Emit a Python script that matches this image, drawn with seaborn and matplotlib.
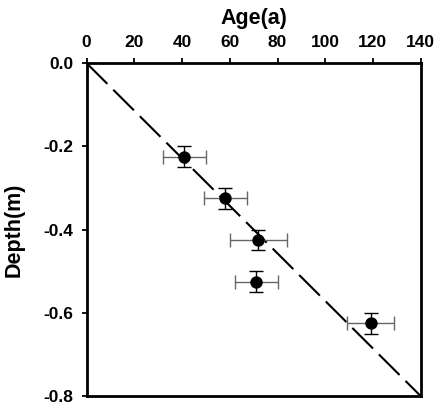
import matplotlib
matplotlib.use("Agg")
import matplotlib.pyplot as plt
import seaborn as sns
import pandas as pd

# Data
age = [41, 58, 72, 71, 119]
depth = [-0.225, -0.325, -0.425, -0.525, -0.625]
age_err = [9, 9, 12, 9, 10]
depth_err = [0.025, 0.025, 0.025, 0.025, 0.025]
trend_age = [0, 140]
trend_depth = [0.0, -0.8]
xticks = [0, 20, 40, 60, 80, 100, 120, 140]
yticks = [0.0, -0.2, -0.4, -0.6, -0.8]

sns.set_theme(style="ticks")
plt.rcParams['font.family'] = ['Liberation Sans', 'DejaVu Sans']
plt.rcParams['text.color'] = 'black'
plt.rcParams['axes.labelcolor'] = 'black'
plt.rcParams['xtick.color'] = 'black'
plt.rcParams['ytick.color'] = 'black'

fig = plt.figure(figsize=(4.4, 4.09), dpi=100)
ax = fig.add_axes([0.197, 0.0318, 0.759, 0.8135])

df = pd.DataFrame({"age": age, "depth": depth})
tr = pd.DataFrame({"age": trend_age, "depth": trend_depth})

sns.lineplot(data=tr, x="age", y="depth", ax=ax, color="black", lw=1.5,
             dashes=False, linestyle=(0, (14, 4)), zorder=1)
ax.errorbar(age, depth, xerr=age_err, fmt="none", ecolor="#666666",
            elinewidth=1.0, capsize=5, capthick=1.0, zorder=2)
ax.errorbar(age, depth, yerr=depth_err, fmt="none", ecolor="black",
            elinewidth=1.0, capsize=5, capthick=1.0, zorder=3)
sns.scatterplot(data=df, x="age", y="depth", ax=ax, color="black", s=80,
                edgecolor="black", linewidth=0, zorder=4)

ax.set_xlim(0, 140)
ax.set_ylim(-0.8, 0.0)
ax.set_xticks(xticks)
ax.set_xticklabels([str(t) for t in xticks])
ax.set_yticks(yticks)
ax.set_yticklabels([f"{t:.1f}" for t in yticks])
ax.xaxis.tick_top()
ax.xaxis.set_label_position("top")
ax.tick_params(axis="x", direction="out", length=3.8, width=1.3, pad=6,
               labelsize=12.5, top=True, bottom=False, colors="black")
ax.tick_params(axis="y", direction="out", length=3.8, width=1.3, pad=6,
               labelsize=12.5, right=False, colors="black")
for lab in ax.get_xticklabels() + ax.get_yticklabels():
    lab.set_fontweight("bold")
for sp in ax.spines.values():
    sp.set_visible(True)
    sp.set_linewidth(2)
    sp.set_color("black")

ax.set_xlabel("Age(a)", fontsize=15.5, fontweight="bold", labelpad=8)
ax.set_ylabel("Depth(m)", fontsize=15.5, fontweight="bold")
ax.yaxis.set_label_coords(-0.185, 0.5)

fig.savefig("out.png", dpi=100)
